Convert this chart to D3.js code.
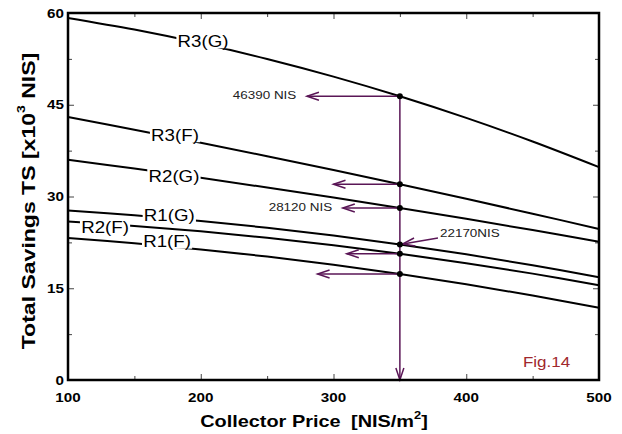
<!DOCTYPE html>
<html>
<head>
<meta charset="utf-8">
<script src="https://cdn.jsdelivr.net/npm/d3@7"></script>
<style>
  html, body { margin: 0; padding: 0; background: #fff; }
  svg { display: block; font-family: Arial, "Liberation Sans", sans-serif; }
</style>
</head>
<body>
<svg id="chart" width="622" height="434"></svg>
<script>
// Collector price [NIS/m2] sample points
const prices = [100, 150, 200, 250, 300, 350, 400, 450, 500];

// Total savings [x10^3 NIS] for each system variant
const r3G = [59.2, 57.29, 55.05, 52.49, 49.60, 46.39, 42.85, 38.99, 34.8];
const r3F = [43.0, 40.92, 38.78, 36.58, 34.32, 32.00, 29.63, 27.19, 24.7];
const r2G = [36.0, 34.56, 33.05, 31.47, 29.83, 28.12, 26.35, 24.51, 22.6];
const r1G = [27.7, 26.94, 26.00, 24.89, 23.62, 22.17, 20.55, 18.76, 16.8];
const r2F = [25.9, 25.18, 24.30, 23.25, 22.03, 20.65, 19.10, 17.39, 15.5];
const r1F = [23.2, 22.36, 21.35, 20.18, 18.84, 17.33, 15.65, 13.81, 11.8];

const seriesNames = ["R3(G)", "R3(F)", "R2(G)", "R1(G)", "R2(F)", "R1(F)"];
const seriesValues = [r3G, r3F, r2G, r1G, r2F, r1F];

// Axis ticks
const xTicks = [100, 200, 300, 400, 500];
const xMinorTicks = [150, 250, 350, 450];
const yTicks = [0, 15, 30, 45, 60];
const yMinorTicks = [7.5, 22.5, 37.5, 52.5];

const refPrice = 350;
const refIndex = prices.indexOf(refPrice);

// Readout labels
const readoutLabels = ["46390 NIS", "28120 NIS", "22170NIS"];
const readoutSeries = [0, 2, 3];

// ---------- layout ----------
const x = d3.scaleLinear().domain([100, 500]).range([68, 599]);
const y = d3.scaleLinear().domain([0, 60]).range([380, 13]);
const STRETCH = 1.17;
const GUIDE = "#5a1656";

const svg = d3.select("#chart");

// text that is widened along its reading direction
function stretchedText(parent, px, py, parts, o) {
  const sx = o.sx || STRETCH;
  const g = parent.append("g")
    .attr("transform", `translate(${px},${py}) rotate(${o.rotate || 0}) scale(${sx},1)`);
  const t = g.append("text")
    .attr("text-anchor", o.anchor || "middle")
    .attr("dominant-baseline", "central")
    .attr("font-size", o.size)
    .attr("font-weight", o.weight || "normal")
    .attr("fill", o.fill || "#000");
  if (typeof parts === "string") parts = [{ t: parts }];
  let shift = 0;
  parts.forEach(p => {
    const ts = t.append("tspan").text(p.t);
    if (p.dx) ts.attr("dx", p.dx);
    if (p.sup) {
      ts.attr("font-size", p.sup).attr("dy", -6 - shift);
      shift = -6;
    } else if (shift) {
      ts.attr("dy", -shift);
      shift = 0;
    }
  });
  return { g, t };
}

// ---------- ticks (inward on all four sides) ----------
function tickAxis(gen, scale, values, size, transform) {
  const a = svg.append("g")
    .attr("transform", transform)
    .call(gen(scale).tickValues(values).tickSize(-size).tickFormat(""));
  a.select(".domain").remove();
  a.selectAll(".tick line").attr("stroke", "#444").attr("stroke-width", 1);
}
tickAxis(d3.axisLeft, y, yTicks, 6, "translate(68,0)");
tickAxis(d3.axisLeft, y, yMinorTicks, 4, "translate(68,0)");
tickAxis(d3.axisRight, y, yTicks, 6, "translate(599,0)");
tickAxis(d3.axisRight, y, yMinorTicks, 4, "translate(599,0)");
tickAxis(d3.axisBottom, x, xTicks, 6, "translate(0,380)");
tickAxis(d3.axisBottom, x, xMinorTicks, 4, "translate(0,380)");
tickAxis(d3.axisTop, x, xTicks, 6, "translate(0,13)");
tickAxis(d3.axisTop, x, xMinorTicks, 4, "translate(0,13)");

// tick labels
yTicks.forEach(v => stretchedText(svg, 64, y(v), String(v), { size: 13, weight: "bold", anchor: "end" }));
xTicks.forEach(v => stretchedText(svg, x(v), 397, String(v), { size: 13, weight: "bold" }));

// ---------- curves ----------
const line = d3.line()
  .x((d, i) => x(prices[i]))
  .y(d => y(d))
  .curve(d3.curveCatmullRom);

svg.append("g").selectAll("path")
  .data(seriesValues)
  .join("path")
  .attr("d", d => line(d))
  .attr("fill", "none")
  .attr("stroke", "#000")
  .attr("stroke-width", 2);

// curve labels (price, value) with a white backing that breaks the line
const labelAt = [[201.7, 55.4], [180.6, 40.05], [179.8, 33.35], [176.3, 26.97], [127.9, 25.0], [174.6, 22.64]];
seriesNames.forEach((name, i) => {
  const { g, t } = stretchedText(svg, x(labelAt[i][0]), y(labelAt[i][1]), name, { size: 16 });
  const b = t.node().getBBox();
  g.insert("rect", "text")
    .attr("x", b.x - 1).attr("y", b.y + 2)
    .attr("width", b.width + 2).attr("height", b.height - 4)
    .attr("fill", "#fff");
});

// ---------- readout guides ----------
const guides = svg.append("g").attr("stroke", GUIDE).attr("stroke-width", 1.5).attr("fill", "none");

function arrowHead(tip, from, len, half) {
  const dx = tip[0] - from[0], dy = tip[1] - from[1];
  const d = Math.hypot(dx, dy), ux = dx / d, uy = dy / d;
  const bx = tip[0] - ux * len, by = tip[1] - uy * len;
  guides.append("path")
    .attr("d", `M${bx - uy * half},${by + ux * half}L${tip[0]},${tip[1]}L${bx + uy * half},${by - ux * half}`);
}

// vertical guide at the reference price down to the price axis
const topVal = r3G[refIndex];
guides.append("line")
  .attr("x1", x(refPrice)).attr("x2", x(refPrice))
  .attr("y1", y(topVal)).attr("y2", y(0));
arrowHead([x(refPrice), y(0)], [x(refPrice), y(topVal)], 12, 4);

// horizontal arrows towards the savings axis
const arrowEnd = [280, 300, 307, null, 310, 288];
seriesValues.forEach((vals, i) => {
  if (arrowEnd[i] === null) return;
  const v = vals[refIndex];
  guides.append("line")
    .attr("x1", x(refPrice)).attr("x2", x(arrowEnd[i]))
    .attr("y1", y(v)).attr("y2", y(v));
  arrowHead([x(arrowEnd[i]), y(v)], [x(refPrice), y(v)], 12, 4);
});

// slanted pointer for the R1(G) readout
{
  const v = r1G[refIndex];
  const from = [x(378.7), y(23.2)];
  const dot = [x(refPrice), y(v)];
  const dx = dot[0] - from[0], dy = dot[1] - from[1], d = Math.hypot(dx, dy);
  const tip = [dot[0] - dx / d * 3, dot[1] - dy / d * 3];
  guides.append("line").attr("x1", from[0]).attr("y1", from[1]).attr("x2", tip[0]).attr("y2", tip[1]);
  arrowHead(tip, from, 12, 4);
}

// readout values
const readoutPos = [[272, "end", 0], [299, "end", 0], [380.2, "start", 1.63]];
readoutLabels.forEach((txt, k) => {
  const v = seriesValues[readoutSeries[k]][refIndex] + readoutPos[k][2];
  stretchedText(svg, x(readoutPos[k][0]), y(v) - 1, txt, { size: 11.5, anchor: readoutPos[k][1], fill: "#222" });
});

// intersection dots
svg.append("g").selectAll("circle")
  .data(seriesValues)
  .join("circle")
  .attr("cx", x(refPrice))
  .attr("cy", d => y(d[refIndex]))
  .attr("r", 3)
  .attr("fill", "#000");

// ---------- frame ----------
svg.append("rect")
  .attr("x", 68).attr("y", 13)
  .attr("width", 599 - 68).attr("height", 380 - 13)
  .attr("fill", "none").attr("stroke", "#000").attr("stroke-width", 2.5);

// ---------- titles ----------
stretchedText(svg, 314, 421,
  [{ t: "Collector Price" }, { t: "[NIS/m", dx: 9 }, { t: "2", sup: 11 }, { t: "]" }],
  { size: 17, weight: "bold" });

stretchedText(svg, 28, 201,
  [{ t: "Total Savings TS [x10" }, { t: "3", sup: 11 }, { t: " NIS]" }],
  { size: 18, weight: "bold", rotate: -90, sx: 1.28 });

stretchedText(svg, 523, 361, "Fig.14", { size: 14.5, anchor: "start", fill: "#a0282d" });
</script>
</body>
</html>
